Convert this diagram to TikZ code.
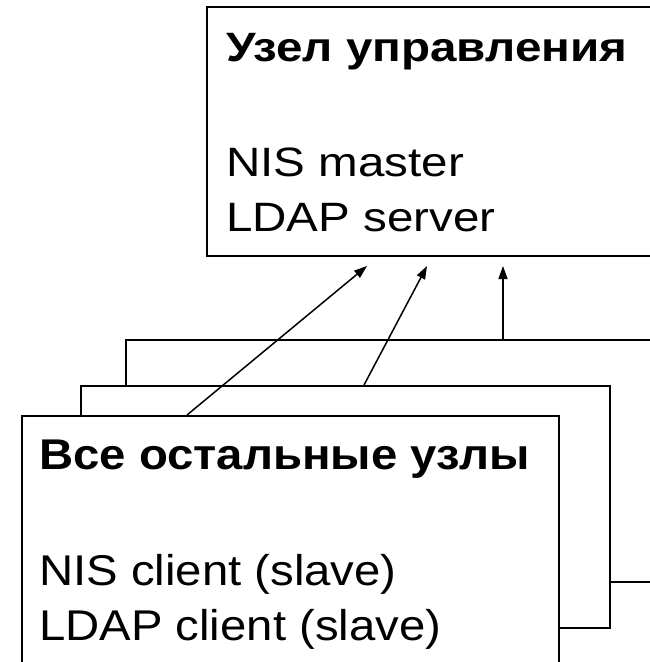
\documentclass[tikz,border=0pt]{standalone}
\usepackage{fontspec}
\setmainfont{Liberation Sans}
\usetikzlibrary{arrows.meta,calc}
\newcommand{\wideA}[1]{\scalebox{1.16}[1]{#1}}
\newcommand{\wideB}[1]{\scalebox{1.10}[1]{#1}}
\begin{document}
\begin{tikzpicture}[x=1pt,y=-1pt,
  boxstyle/.style={draw=black,fill=white,line width=2pt,inner sep=0pt,anchor=north west},
  backbox/.style={draw=black,fill=white,line width=1.6pt,inner sep=0pt,anchor=north west},
  conn/.style={line width=1.5pt,-{Triangle[length=13pt,width=9pt]}},
  ttl/.style={font=\fontsize{41}{49}\selectfont\bfseries,anchor=base west,inner sep=0pt},
  bodytxt/.style={font=\fontsize{41}{49}\selectfont,anchor=base west,inner sep=0pt},
  ttlb/.style={font=\fontsize{43}{52}\selectfont\bfseries,anchor=base west,inner sep=0pt},
  bodytxtb/.style={font=\fontsize{43}{52}\selectfont,anchor=base west,inner sep=0pt}]
\useasboundingbox (0,0) rectangle (650,662);
\clip (0,0) rectangle (650,662);
% back boxes
\node[backbox,minimum width=540pt,minimum height=242pt] (third) at (125,339) {};
\node[boxstyle,minimum width=529pt,minimum height=242pt] (second) at (80,385) {};
\node[boxstyle,minimum width=537pt,minimum height=260pt] (front) at (21,415) {};
% top box
\node[boxstyle,minimum width=460pt,minimum height=249pt] (top) at (206,6) {};
% texts
\node[ttl] (t1) at (226,61.7) {\wideA{Узел управления}};
\node[bodytxt] (t2) at (226,176.7) {\wideA{NIS master}};
\node[bodytxt] (t3) at (226,231) {\wideA{LDAP server}};
\node[ttlb] (f1) at (39,469) {\wideB{Все остальные узлы}};
\node[bodytxtb] (f2) at (39,585.7) {\wideB{NIS client (slave)}};
\node[bodytxtb] (f3) at (39,640.7) {\wideB{LDAP client (slave)}};
% connector end points
\coordinate (s1) at ($(front.north west)+(166,0)$);
\coordinate (e1) at ($(top.south west)+(161,9)$);
\coordinate (s2) at ($(second.north west)+(284,0)$);
\coordinate (e2) at ($(top.south west)+(221,9)$);
\coordinate (s3) at ($(third.north west)+(378,0)$);
\coordinate (e3) at ($(top.south west)+(297,9)$);
\draw[conn] (s1) -- (e1);
\draw[conn] (s2) -- (e2);
\draw[conn] (s3) -- (e3);
\end{tikzpicture}
\end{document}
